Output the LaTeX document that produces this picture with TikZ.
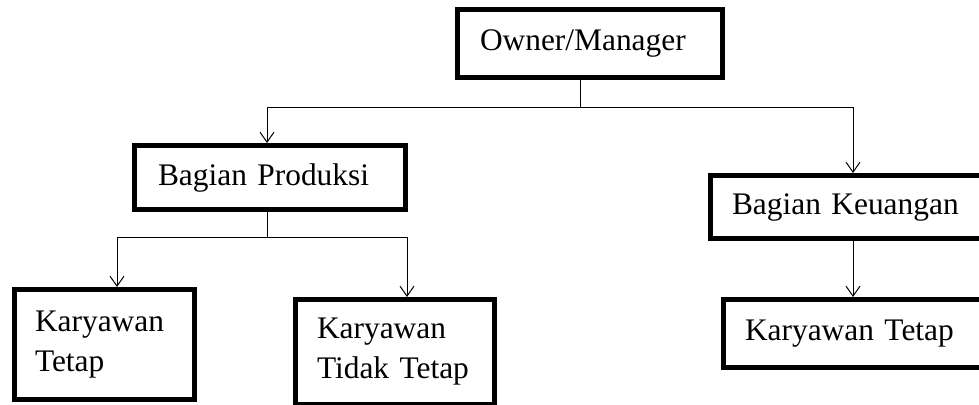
\documentclass[tikz,border=0pt]{standalone}
\usepackage{fontspec}
\setmainfont{Liberation Serif}
\usetikzlibrary{arrows.meta,positioning}

\begin{document}
\begin{tikzpicture}[
  x=0.5pt, y=-0.5pt,
  font=\fontsize{15.7}{20}\selectfont,
  box/.style={draw, line width=2.5pt, anchor=north west, align=left,
              inner ysep=0pt},
  line/.style={line width=0.5pt},
  arr/.style={line, -{Straight Barb[length=5pt, width=7pt]}}]
  \useasboundingbox (0,0) rectangle (979,404);
  \clip (0,0) rectangle (979,404);
  \node[box, minimum width=132.5pt, minimum height=34pt, inner xsep=11.25pt,
        text width=110pt] (owner) at (455,7) {Owner/Manager};
  \node[box, minimum width=135.5pt, minimum height=32pt, inner xsep=11.75pt,
        text width=112pt] (prod) at (132,143) {Bagian Produksi};
  \node[box, minimum width=149.75pt, minimum height=31.5pt, inner xsep=10.75pt,
        text width=128.25pt] (keu) at (708,173) {Bagian Keuangan};
  \node[box, minimum width=90pt, minimum height=55pt, inner xsep=10.25pt,
        text width=69.5pt] (tetap) at (12,287) {Karyawan\\Tetap};
  \node[box, minimum width=99.5pt, minimum height=52.5pt, inner xsep=10.75pt,
        text width=78pt] (tidak) at (293,297) {Karyawan\\Tidak Tetap};
  \node[box, minimum width=143.25pt, minimum height=34pt, inner xsep=10.75pt,
        text width=121.75pt] (keutetap) at (721,297) {Karyawan Tetap};
  \coordinate (top) at (580,107);
  \coordinate (topl) at (267,107);
  \coordinate (topr) at (853,107);
  \coordinate (mid) at (267,237);
  \coordinate (midl) at (117,237);
  \coordinate (midr) at (407,237);
  \draw[line] (owner.south -| top) -- (top);
  \draw[line] (topl) -- (topr);
  \draw[arr] (topl) -- (prod.north -| topl);
  \draw[arr] (topr) -- (keu.north -| topr);
  \draw[line] (prod.south -| mid) -- (mid);
  \draw[line] (midl) -- (midr);
  \draw[arr] (midl) -- (tetap.north -| midl);
  \draw[arr] (midr) -- (tidak.north -| midr);
  \draw[arr] (keu.south -| topr) -- (keutetap.north -| topr);
\end{tikzpicture}
\end{document}
